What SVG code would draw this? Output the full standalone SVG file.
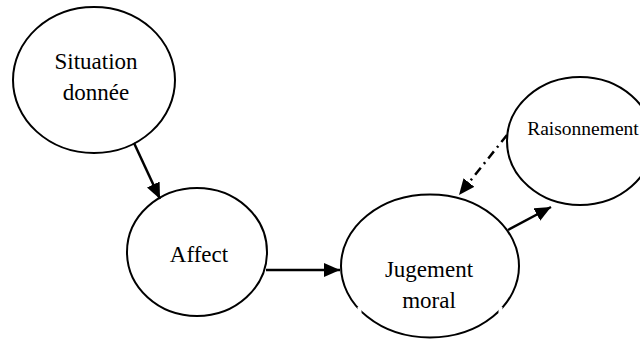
<svg xmlns="http://www.w3.org/2000/svg" width="640" height="340" viewBox="0 0 640 340">
  <style>
    .node ellipse { fill: #ffffff; stroke: #000000; stroke-width: 2; }
    .label { font-family: "Liberation Serif", "Times New Roman", serif; font-size: 23px; fill: #000000; text-anchor: middle; }
    .small { font-size: 19.5px; }
    .edge { stroke: #000000; stroke-width: 2.5; fill: none; }
    .dashdot { stroke-dasharray: 9 5 2 5; }
    .break { fill: #ffffff; }
  </style>
  <defs>
    <marker id="arrow" markerUnits="userSpaceOnUse" markerWidth="16" markerHeight="14" refX="16" refY="7" orient="auto">
      <path d="M0,0 L16,7 L0,14 Z" fill="#000000"/>
    </marker>
  </defs>
  <rect width="640" height="340" fill="#ffffff"/>

  <g id="situation" class="node">
    <ellipse cx="94" cy="80" rx="81" ry="73"/>
    <text class="label" x="96" y="69">Situation</text>
    <text class="label" x="96" y="100">donnée</text>
  </g>

  <g id="affect" class="node">
    <ellipse cx="197" cy="252" rx="70" ry="64"/>
    <text class="label" x="199" y="262">Affect</text>
  </g>

  <g id="jugement" class="node">
    <ellipse cx="430" cy="266" rx="89" ry="71.5"/>
    <!-- small breaks in the outline below the text -->
    <rect class="break" x="357.5" y="307" width="4" height="6"/>
    <rect class="break" x="498.5" y="307" width="4" height="6"/>
    <text class="label" x="429" y="277">Jugement</text>
    <text class="label" x="429" y="308">moral</text>
  </g>

  <g id="raisonnement" class="node">
    <ellipse cx="580" cy="141" rx="73" ry="64"/>
    <text class="label small" x="583" y="135">Raisonnement</text>
  </g>

  <g id="connectors">
    <line class="edge" x1="134" y1="143" x2="160" y2="199" marker-end="url(#arrow)"/>
    <line class="edge" x1="266" y1="270" x2="340" y2="270" marker-end="url(#arrow)"/>
    <line class="edge dashdot" x1="507" y1="135" x2="459" y2="195" marker-end="url(#arrow)"/>
    <line class="edge" x1="508" y1="230" x2="551" y2="207" marker-end="url(#arrow)"/>
  </g>
</svg>
